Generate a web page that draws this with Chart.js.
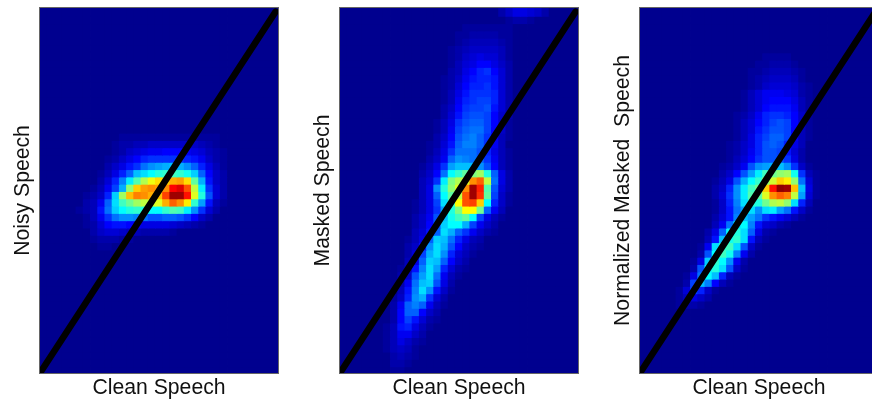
<!DOCTYPE html>
<html>
<head>
<meta charset="utf-8">
<title>Speech histograms</title>
<script src="https://cdn.jsdelivr.net/npm/chart.js@4"></script>
<style>
  html, body { margin: 0; padding: 0; background: #fff; overflow: hidden; width: 872px; height: 401px; }
  canvas { position: absolute; top: 0; filter: blur(0.5px); }
</style>
</head>
<body>
<canvas id="panel1" width="300" height="401" style="left:0"></canvas>
<canvas id="panel2" width="300" height="401" style="left:300px"></canvas>
<canvas id="panel3" width="300" height="401" style="left:600px"></canvas>
<script>
// histogram columns (clean speech bins)
const columns = [0,1,2,3,4,5,6,7,8,9,10,11,12,13,14,15,16,17,18,19,20,21,22,23,24,25,26,27,28,29,30,31,32];
const rowCount = 50;

// jet colour index per cell, 0-63, top row first, missing cells are 0
const noisyRows = [
  [],[],[],[],[],[],[],[],[],[],[],[],[],[],[],[],[],
  [0,0,0,0,0,0,0,0,0,0,0,1,1,1,1,1,1,1,1,1,1,1,1,1,1],
  [0,0,0,0,0,0,0,0,0,0,1,2,2,3,3,4,4,4,4,4,4,4,3,2,1],
  [0,0,0,0,0,0,0,0,0,0,1,2,4,5,6,7,7,8,8,8,7,6,5,3,2,1],
  [0,0,0,0,0,0,0,0,0,1,2,4,6,8,10,11,11,11,11,11,10,9,7,4,2,1],
  [0,0,0,0,0,0,0,0,0,2,4,6,9,11,15,17,18,19,20,19,17,14,10,6,3,1],
  [0,0,0,0,0,0,0,0,1,3,6,10,14,20,22,24,26,27,28,27,25,21,14,8,4,2],
  [0,0,0,0,0,0,0,0,2,5,10,16,23,29,35,39,42,43,45,46,42,30,19,9,4,2],
  [0,0,0,0,0,0,0,1,3,7,12,19,33,43,46,47,46,47,56,58,51,36,23,11,5,2],
  [0,0,0,0,0,0,1,2,4,10,21,34,44,48,47,45,44,52,62,62,55,38,26,13,5,2],
  [0,0,0,0,0,0,2,3,7,14,22,28,31,34,36,37,38,45,50,47,41,27,18,9,3,1],
  [0,0,0,0,0,1,2,3,9,15,21,24,26,27,26,24,24,27,29,28,23,17,11,5,2],
  [0,0,0,0,0,0,1,3,7,11,15,17,17,16,15,13,13,14,14,13,11,8,4,2],
  [0,0,0,0,0,0,1,2,5,8,9,9,8,7,6,6,6,6,5,4,3,2,1],
  [0,0,0,0,0,0,0,2,4,5,5,4,3,3,2,2,2,2,1],
  [0,0,0,0,0,0,0,1,2,2,2,1,1],
  [0,0,0,0,0,0,0,0,1,1],
  [],[],[],[],[],[],[],[],[],[],[],[],[],[],[],[],[]
];

const maskedRows = [
  [0,0,0,0,0,0,0,0,0,0,0,0,0,0,0,0,0,0,0,0,0,0,2,4,6,6,5,4,2],
  [0,0,0,0,0,0,0,0,0,0,0,0,0,0,0,0,0,0,0,0,0,0,0,1,2,2,1],
  [0,0,0,0,0,0,0,0,0,0,0,0,0,0,0,0,0,1,1,1,1,1,1,1],
  [0,0,0,0,0,0,0,0,0,0,0,0,0,0,0,0,1,1,2,2,2,2,1,1],
  [0,0,0,0,0,0,0,0,0,0,0,0,0,0,0,0,1,2,3,3,3,3,2,1],
  [0,0,0,0,0,0,0,0,0,0,0,0,0,0,0,1,2,3,4,4,4,4,3,1],
  [0,0,0,0,0,0,0,0,0,0,0,0,0,0,0,1,2,4,5,6,5,5,3,1],
  [0,0,0,0,0,0,0,0,0,0,0,0,0,0,0,1,3,5,6,8,8,6,4,2],
  [0,0,0,0,0,0,0,0,0,0,0,0,0,0,0,2,3,6,8,10,11,8,5,2],
  [0,0,0,0,0,0,0,0,0,0,0,0,0,0,1,2,4,7,9,10,10,9,5,2],
  [0,0,0,0,0,0,0,0,0,0,0,0,0,0,1,2,5,8,10,10,11,9,5,2],
  [0,0,0,0,0,0,0,0,0,0,0,0,0,0,1,3,6,9,11,11,11,10,5,2],
  [0,0,0,0,0,0,0,0,0,0,0,0,0,0,1,3,7,10,11,12,12,10,5,2],
  [0,0,0,0,0,0,0,0,0,0,0,0,0,0,2,4,8,11,12,12,13,9,5,2],
  [0,0,0,0,0,0,0,0,0,0,0,0,0,0,2,5,9,12,13,13,12,8,4,2],
  [0,0,0,0,0,0,0,0,0,0,0,0,0,1,3,6,11,13,14,14,12,8,4,1],
  [0,0,0,0,0,0,0,0,0,0,0,0,0,1,3,7,12,14,15,15,12,8,4,1],
  [0,0,0,0,0,0,0,0,0,0,0,0,0,2,4,8,13,15,16,14,11,7,3,1],
  [0,0,0,0,0,0,0,0,0,0,0,0,1,2,5,9,14,16,16,14,11,7,3],
  [0,0,0,0,0,0,0,0,0,0,0,0,1,3,6,11,15,15,15,13,10,6,3,1],
  [0,0,0,0,0,0,0,0,0,0,0,0,2,4,7,14,17,16,15,14,11,7,3,1],
  [0,0,0,0,0,0,0,0,0,0,0,1,3,6,11,18,20,20,20,17,13,8,3,1],
  [0,0,0,0,0,0,0,0,0,0,0,2,4,8,15,24,27,30,32,34,26,14,6,2],
  [0,0,0,0,0,0,0,0,0,0,0,3,5,11,23,32,35,38,47,50,36,15,6,2],
  [0,0,0,0,0,0,0,0,0,0,0,3,6,17,26,33,38,47,62,54,29,13,5,2],
  [0,0,0,0,0,0,0,0,0,0,0,3,6,14,24,30,36,51,62,53,30,12,4,1],
  [0,0,0,0,0,0,0,0,0,0,1,3,6,12,22,28,40,51,52,43,24,10,4,1],
  [0,0,0,0,0,0,0,0,0,0,1,3,6,11,18,26,32,40,40,31,14,7,3],
  [0,0,0,0,0,0,0,0,0,0,2,4,7,13,20,25,28,30,24,12,6,3,1],
  [0,0,0,0,0,0,0,0,0,0,2,4,8,13,21,24,24,19,12,7,4,2],
  [0,0,0,0,0,0,0,0,0,0,3,5,9,14,22,19,14,11,7,4,2,1],
  [0,0,0,0,0,0,0,0,0,1,3,6,14,21,20,15,10,6,3,2],
  [0,0,0,0,0,0,0,0,0,2,4,9,17,22,19,13,8,4,2,1],
  [0,0,0,0,0,0,0,0,0,2,5,12,19,22,17,10,5,3,1],
  [0,0,0,0,0,0,0,0,0,3,6,14,21,20,14,8,4,2],
  [0,0,0,0,0,0,0,0,1,3,9,16,22,18,10,5,2,1],
  [0,0,0,0,0,0,0,0,2,4,13,18,22,15,7,3,1],
  [0,0,0,0,0,0,0,0,2,7,15,20,21,13,6,2],
  [0,0,0,0,0,0,0,0,3,9,16,22,17,9,4,1],
  [0,0,0,0,0,0,0,1,4,10,17,19,11,5,2],
  [0,0,0,0,0,0,0,2,7,14,16,14,7,3,1],
  [0,0,0,0,0,0,0,2,8,14,14,8,4,2],
  [0,0,0,0,0,0,0,2,8,12,9,5,2,1],
  [0,0,0,0,0,0,1,3,9,10,6,3,1],
  [0,0,0,0,0,0,1,3,7,7,4,2],
  [0,0,0,0,0,0,1,3,6,4,2,1],
  [0,0,0,0,0,0,1,3,4,3,1],
  [0,0,0,0,0,0,0,2,3,2,1],
  [0,0,0,0,0,0,0,2,2,1],
  [0,0,0,0,0,0,0,1,1]
];

const normalizedRows = [
  [],[],[],[],[],[],
  [0,0,0,0,0,0,0,0,0,0,0,0,0,0,0,0,0,1,1,1,1],
  [0,0,0,0,0,0,0,0,0,0,0,0,0,0,0,0,1,1,2,2,2,1],
  [0,0,0,0,0,0,0,0,0,0,0,0,0,0,0,1,1,2,3,3,3,2,1],
  [0,0,0,0,0,0,0,0,0,0,0,0,0,0,0,1,2,3,4,4,4,3,1],
  [0,0,0,0,0,0,0,0,0,0,0,0,0,0,0,1,2,4,5,5,5,4,2,1],
  [0,0,0,0,0,0,0,0,0,0,0,0,0,0,1,3,5,7,7,7,6,5,2,1],
  [0,0,0,0,0,0,0,0,0,0,0,0,0,0,1,3,5,7,8,8,8,6,3,1],
  [0,0,0,0,0,0,0,0,0,0,0,0,0,0,1,3,5,8,9,9,9,7,3,1],
  [0,0,0,0,0,0,0,0,0,0,0,0,0,1,2,4,7,10,11,11,10,8,4,1],
  [0,0,0,0,0,0,0,0,0,0,0,0,0,1,3,5,8,10,12,13,12,8,4,1],
  [0,0,0,0,0,0,0,0,0,0,0,0,0,1,3,5,9,11,13,13,12,8,3,1],
  [0,0,0,0,0,0,0,0,0,0,0,0,0,1,3,6,10,12,14,14,12,7,3,1],
  [0,0,0,0,0,0,0,0,0,0,0,0,1,2,4,6,10,13,14,13,10,6,3],
  [0,0,0,0,0,0,0,0,0,0,0,0,1,2,4,7,10,13,13,12,9,5,2],
  [0,0,0,0,0,0,0,0,0,0,0,0,1,3,5,8,11,13,13,13,11,6,2],
  [0,0,0,0,0,0,0,0,0,0,0,1,2,4,7,13,17,18,19,20,17,11,4,1],
  [0,0,0,0,0,0,0,0,0,0,0,2,4,8,13,18,23,28,31,33,34,25,11,3,1],
  [0,0,0,0,0,0,0,0,0,0,1,3,6,13,19,24,27,33,37,43,41,33,15,5,1],
  [0,0,0,0,0,0,0,0,0,0,2,4,10,17,23,28,31,43,55,63,62,44,20,6,1],
  [0,0,0,0,0,0,0,0,0,0,2,5,11,17,23,29,30,38,47,50,48,36,18,5,1],
  [0,0,0,0,0,0,0,0,0,0,1,4,10,16,22,26,26,31,35,36,33,22,10,3],
  [0,0,0,0,0,0,0,0,0,0,1,4,9,15,18,22,17,22,23,18,15,9,4,1],
  [0,0,0,0,0,0,0,0,0,0,2,5,9,16,20,18,15,11,9,7,5,3,1],
  [0,0,0,0,0,0,0,0,0,0,3,7,15,22,24,16,9,5,4,2,1],
  [0,0,0,0,0,0,0,0,0,2,6,14,24,26,22,14,6,2,1],
  [0,0,0,0,0,0,0,0,0,3,9,20,25,27,22,9,3,1],
  [0,0,0,0,0,0,0,0,1,7,22,27,28,22,13,4,1],
  [0,0,0,0,0,0,0,0,2,13,24,28,25,16,7,2],
  [0,0,0,0,0,0,0,1,6,21,27,24,17,7,2],
  [0,0,0,0,0,0,0,2,13,23,26,22,13,4,1],
  [0,0,0,0,0,0,1,6,15,24,20,10,3,1],
  [0,0,0,0,0,0,2,12,20,16,8,3,1],
  [0,0,0,0,0,1,5,12,10,4,1],
  [0,0,0,0,0,1,3,6,4,2],
  [0,0,0,0,0,1,2,2,1],
  [],[],[],[],[],[],[],[],[]
];

// the black reference line, as fractions of each axis
const lineX = [0, 0.99];
const lineY = [0, 0.99];

const panels = [
  { id: 'panel1', rows: noisyRows, yTitle: 'Noisy Speech' },
  { id: 'panel2', rows: maskedRows, yTitle: 'Masked Speech' },
  { id: 'panel3', rows: normalizedRows, yTitle: 'Normalized Masked  Speech' }
];

// jet colormap stops
const jetStops = [
  [0,0,0,143],[8,0,0,255],[24,0,255,255],[32,128,255,128],[40,255,255,0],[56,255,0,0],[63,143,0,0]
];

function jet(v) {
  for (let i = 1; i < jetStops.length; i++) {
    const a = jetStops[i - 1], b = jetStops[i];
    if (v <= b[0]) {
      const t = (v - a[0]) / (b[0] - a[0]);
      return 'rgb(' + [1, 2, 3].map(k => Math.round(a[k] + (b[k] - a[k]) * t)).join(',') + ')';
    }
  }
  return 'rgb(143,0,0)';
}

const frame = {
  id: 'frame',
  afterDraw(chart) {
    const a = chart.chartArea, ctx = chart.ctx;
    ctx.save();
    ctx.strokeStyle = '#666';
    ctx.lineWidth = 1;
    ctx.strokeRect(a.left - 0.5, a.top - 0.5, a.width + 1, a.height + 1);
    ctx.restore();
  }
};

const titleFont = { family: '"Liberation Sans", Arial, sans-serif', size: 21.2 };

function drawPanel(panel) {
  const datasets = [];
  for (let r = 0; r < rowCount; r++) {
    const row = panel.rows[r];
    datasets.push({
      type: 'bar',
      xAxisID: 'x',
      yAxisID: 'y',
      order: 1,
      grouped: false,
      barPercentage: 1.12,
      categoryPercentage: 1,
      borderWidth: 0,
      data: columns.map(() => [r, r + 1.2]),
      backgroundColor: columns.map(c => jet(row[c] || 0))
    });
  }
  datasets.push({
    type: 'line',
    xAxisID: 'xLine',
    yAxisID: 'yLine',
    order: 0,
    data: lineX.map((x, i) => ({ x: x, y: lineY[i] })),
    borderColor: '#000',
    borderWidth: 6.5,
    borderCapStyle: 'round',
    pointRadius: 0
  });

  new Chart(document.getElementById(panel.id), {
    data: { labels: columns, datasets: datasets },
    plugins: [frame],
    options: {
      responsive: false,
      animation: false,
      events: [],
      layout: { padding: { top: 8, right: 22, bottom: 0, left: 0 } },
      plugins: { legend: { display: false }, tooltip: { enabled: false } },
      scales: {
        x: {
          grid: { display: false },
          border: { display: false },
          ticks: { display: false },
          afterFit: s => { s.height = 28; },
          title: { display: true, text: 'Clean Speech', color: '#111', font: titleFont, padding: { top: 3, bottom: 0 } }
        },
        y: {
          reverse: true,
          min: 0,
          max: rowCount,
          grid: { display: false },
          border: { display: false },
          ticks: { display: false },
          afterFit: s => { s.width = 40; },
          title: { display: true, text: panel.yTitle, color: '#111', font: titleFont, padding: { top: 10, bottom: 0 } }
        },
        xLine: { type: 'linear', display: false, min: 0, max: 1 },
        yLine: { type: 'linear', display: false, min: 0, max: 1 }
      }
    }
  });
}

panels.forEach(drawPanel);
</script>
</body>
</html>
